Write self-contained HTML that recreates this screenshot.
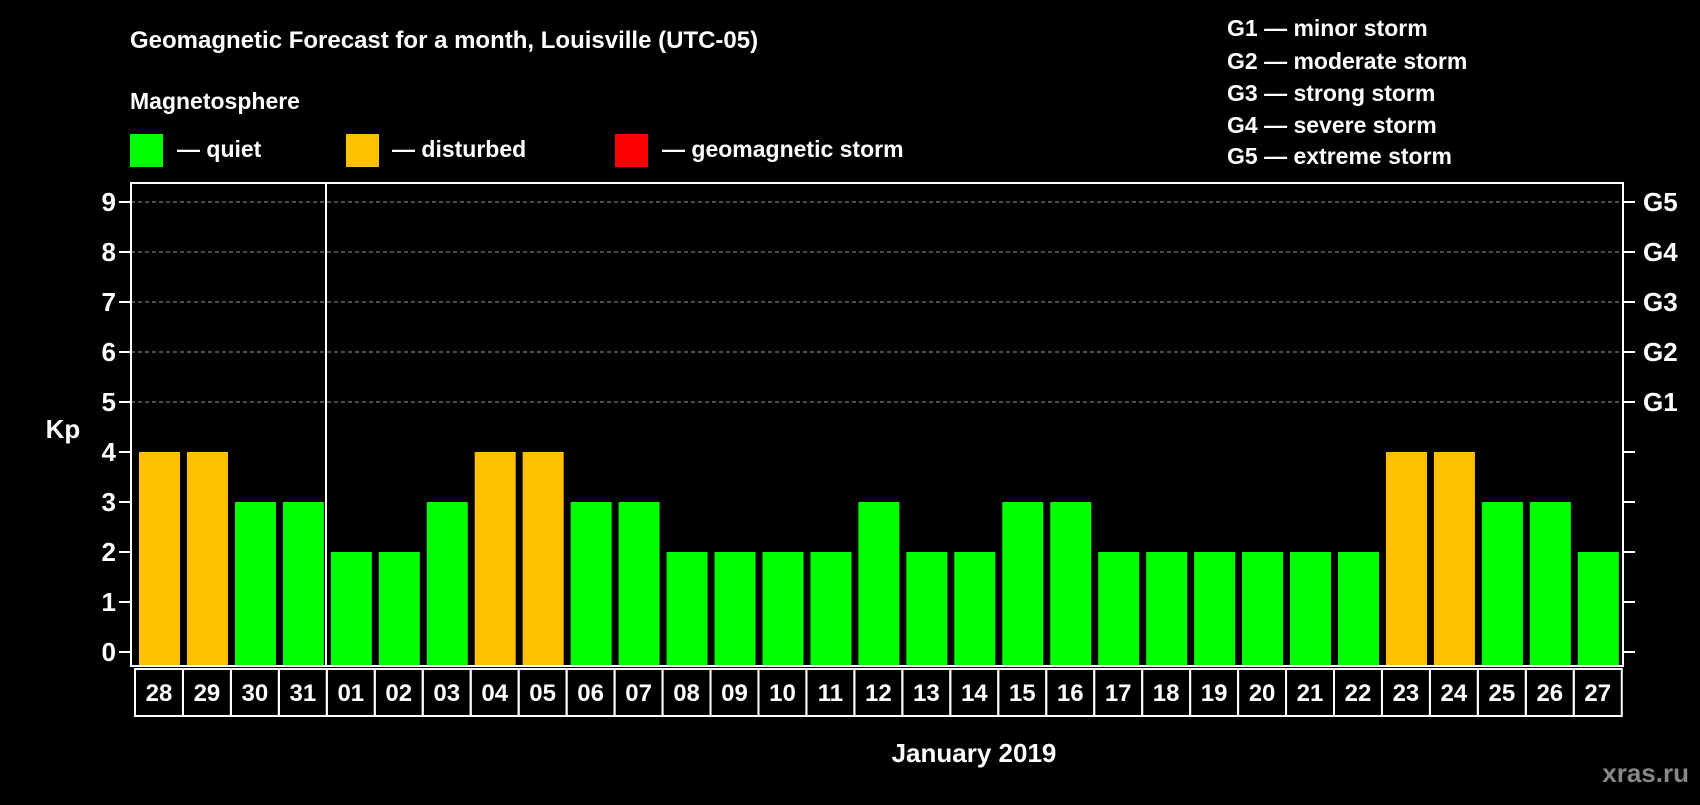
<!DOCTYPE html>
<html><head><meta charset="utf-8"><style>
body{margin:0;background:#000;width:1700px;height:800px;overflow:hidden;font-family:"Liberation Sans",sans-serif;font-weight:bold;color:#fff}
svg text{font-family:"Liberation Sans",sans-serif;font-weight:bold;fill:#fff}
</style></head><body>
<svg id="c" width="1700" height="800" xmlns="http://www.w3.org/2000/svg">
<text x="130" y="48" font-size="24">Geomagnetic Forecast for a month, Louisville (UTC-05)</text>
<text x="130" y="109" font-size="23">Magnetosphere</text>
<rect x="130" y="134" width="33" height="33" fill="#00ff00"/>
<text x="177" y="157" font-size="23">— quiet</text>
<rect x="346" y="134" width="33" height="33" fill="#ffc000"/>
<text x="392" y="157" font-size="23">— disturbed</text>
<rect x="615" y="134" width="33" height="33" fill="#ff0000"/>
<text x="662" y="157" font-size="23">— geomagnetic storm</text>
<g font-size="23">
<text x="1227" y="36">G1 — minor storm</text>
<text x="1227" y="69">G2 — moderate storm</text>
<text x="1227" y="101">G3 — strong storm</text>
<text x="1227" y="133">G4 — severe storm</text>
<text x="1227" y="164">G5 — extreme storm</text>
</g>
<text x="63" y="438" font-size="26" text-anchor="middle">Kp</text>
<text x="974" y="762" font-size="26" text-anchor="middle">January 2019</text>
<text x="1689" y="782" font-size="26" text-anchor="end" style="fill:#888">xras.ru</text>
<g id="plot"></g>
</svg>
<script>
const days=["28","29","30","31","01","02","03","04","05","06","07","08","09","10","11","12","13","14","15","16","17","18","19","20","21","22","23","24","25","26","27"];
const kp=[4,4,3,3,2,2,3,4,4,3,3,2,2,2,2,3,2,2,3,3,2,2,2,2,2,2,4,4,3,3,2];
const yTicks=[0,1,2,3,4,5,6,7,8,9];
const gLabels=["G1","G2","G3","G4","G5"];
const gLevels=[5,6,7,8,9];
const NS="http://www.w3.org/2000/svg";
const g=document.getElementById('plot');
const L=131,R=1623,T=183,B=666;
const y=v=>652-v*50;
const pitch=47.96, x0=139, bw=41;
const x=i=>x0+i*pitch;
function mk(t,a){const e=document.createElementNS(NS,t);for(const k in a)e.setAttribute(k,a[k]);g.appendChild(e);return e;}
yTicks.forEach(v=>{
  if(v>=5){const l=mk('line',{x1:L,x2:R,y1:y(v),y2:y(v),stroke:'#999','stroke-dasharray':'4,3','stroke-width':1});
  
  }
  const t=mk('line',{x1:L-12,x2:L,y1:y(v),y2:y(v),stroke:'#fff','stroke-width':2});
  
  
  const t2=mk('line',{x1:R,x2:R+12,y1:y(v),y2:y(v),stroke:'#fff','stroke-width':2});
  
  
  const lb=mk('text',{x:116,y:y(v)+9,'font-size':26,'text-anchor':'end'});lb.textContent=v;
  
  
});
gLabels.forEach((s,i)=>{const t=mk('text',{x:1643,y:y(gLevels[i])+9,'font-size':26});t.textContent=s;
  
  });
kp.forEach((v,i)=>{
  const r=mk('rect',{x:x(i),y:y(v)-(B-652)+ (B-652),width:bw,height:B-y(v),fill:v>=5?'#ff0000':(v>=4?'#ffc000':'#00ff00')});
  r.setAttribute('y',y(v));
  
  
});
const fr=mk('rect',{x:L,y:T,width:R-L,height:B-T,fill:'none',stroke:'#fff','stroke-width':2});


const dv=mk('line',{x1:326,x2:326,y1:T,y2:B,stroke:'#fff','stroke-width':2});


days.forEach((d,i)=>{
  const cx=x(i)-4;
  const c=mk('rect',{x:cx,y:669,width:pitch,height:47,fill:'none',stroke:'#fff','stroke-width':2});
  
  
  const t=mk('text',{x:cx+pitch/2,y:701,'font-size':24,'text-anchor':'middle'});t.textContent=d;
  
  
});
</script>
</body></html>
